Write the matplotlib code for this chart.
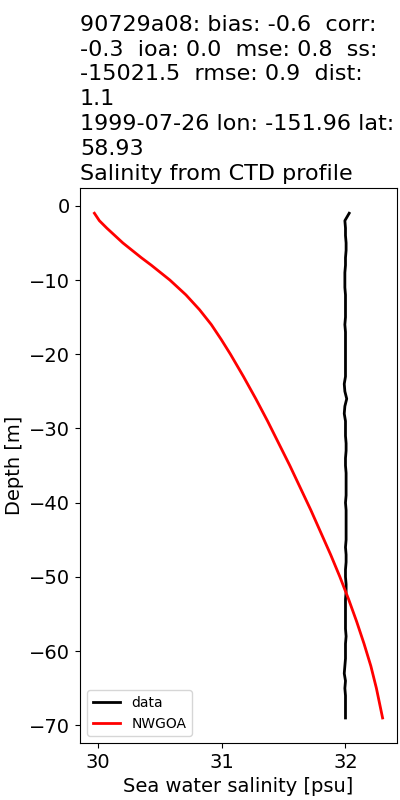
import numpy as np
from matplotlib import pyplot as plt

# observed CTD profile
data_depth = [-1, -2, -3, -4, -5, -6, -7, -8, -9, -10, -11, -12, -13, -14, -15,
              -16, -17, -18, -19, -20, -21, -22, -23, -24, -25, -26, -27, -28,
              -29, -30, -31, -32, -33, -34, -35, -36, -37, -38, -39, -40, -41,
              -42, -43, -44, -45, -46, -47, -48, -49, -50, -51, -52, -53, -54,
              -55, -56, -57, -58, -59, -60, -61, -62, -63, -64, -65, -66, -67,
              -68, -69]
data_sal = [32.03, 31.995, 32.0, 32.0, 32.005, 32.005, 32.0, 32.0, 31.995, 31.995,
            31.995, 32.0, 32.0, 32.0, 32.0, 31.995, 32.0, 32.0, 32.0, 32.0,
            32.0, 32.0, 32.0, 31.99, 31.995, 32.01, 31.995, 31.99, 32.0, 32.0,
            32.0, 32.005, 32.005, 32.0, 32.0, 32.005, 32.005, 32.005, 32.005, 32.0,
            32.005, 32.005, 32.005, 32.005, 32.005, 32.0, 32.005, 32.005, 32.0, 32.0,
            32.005, 32.005, 32.0, 32.0, 32.0, 32.0, 32.0, 32.005, 32.0, 32.0,
            32.0, 31.995, 31.99, 32.0, 31.995, 32.0, 32.0, 32.0, 32.0]

# model profile
model_depth = [-1, -2, -3, -4, -5, -6, -7, -8, -10, -12, -14, -16, -18, -20,
               -23, -26, -29, -32, -35, -38, -41, -44, -47, -50, -53, -56,
               -59, -62, -65, -67, -69]
model_sal = [29.97, 30.01, 30.07, 30.135, 30.20, 30.275, 30.35, 30.43, 30.58,
             30.71, 30.82, 30.915, 30.995, 31.07, 31.175, 31.275, 31.37,
             31.46, 31.55, 31.635, 31.72, 31.80, 31.88, 31.955, 32.025,
             32.09, 32.15, 32.205, 32.25, 32.275, 32.30]

title = ("90729a08: bias: -0.6  corr:\n-0.3  ioa: 0.0  mse: 0.8  ss:\n"
         "-15021.5  rmse: 0.9  dist:\n1.1\n"
         "1999-07-26 lon: -151.96 lat:\n58.93\nSalinity from CTD profile")

fig, ax = plt.subplots(figsize=(4, 8), dpi=100)
ax.plot(data_sal, data_depth, color="black", linewidth=2, label="data")
ax.plot(model_sal, model_depth, color="red", linewidth=2, label="NWGOA")
ax.set_title(title, loc="left", fontsize=16, linespacing=1.3)
ax.set_xlabel("Sea water salinity [psu]", fontsize=14)
ax.set_ylabel("Depth [m]", fontsize=14)
ax.tick_params(labelsize=14)
ax.legend(loc="lower left", fontsize=10)
plt.subplots_adjust(left=0.2, right=0.9925, top=0.765, bottom=0.071)
plt.savefig("out.png")
